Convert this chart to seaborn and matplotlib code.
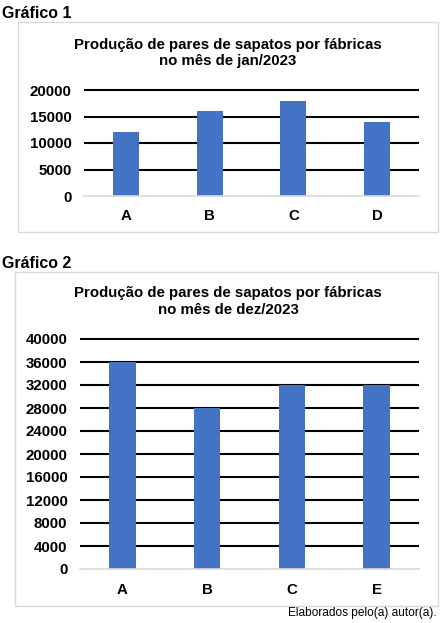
import matplotlib
matplotlib.use("Agg")
import matplotlib.pyplot as plt
from matplotlib.patches import Rectangle
import seaborn as sns

# dados
fabricas_jan = ["A", "B", "C", "D"]
pares_jan = [12000, 16000, 18000, 14000]
ticks_jan = [0, 5000, 10000, 15000, 20000]

fabricas_dez = ["A", "B", "C", "E"]
pares_dez = [36000, 28000, 32000, 32000]
ticks_dez = list(range(0, 40001, 4000))

titulo_jan = "Produção de pares de sapatos por fábricas\nno mês de jan/2023"
titulo_dez = "Produção de pares de sapatos por fábricas\nno mês de dez/2023"

AZUL = "#4472C4"
CINZA = "#d9d9d9"
W, H = 444, 623

sns.set_style("white")
plt.rcParams["font.family"] = ["Liberation Sans", "DejaVu Sans"]
plt.rcParams["text.color"] = "black"
plt.rcParams["xtick.color"] = "black"
plt.rcParams["ytick.color"] = "black"

fig = plt.figure(figsize=(W / 100, H / 100), dpi=100)


def px(x0, y0, x1, y1):
    # caixa em pixels (origem no topo) -> fração da figura
    return [x0 / W, 1 - y1 / H, (x1 - x0) / W, (y1 - y0) / H]


def grafico(ax, cats, vals, ticks, pad_x):
    sns.barplot(x=cats, y=vals, color=AZUL, saturation=1, width=0.31,
                edgecolor="none", ax=ax, zorder=2)
    ax.set_ylim(ticks[0], ticks[-1])
    ax.set_xlim(-0.5, len(cats) - 0.5)
    ax.set_yticks(ticks)
    ax.hlines(ticks[1:], -0.5, len(cats) - 0.5, color="black", lw=1.5,
              clip_on=False, zorder=1)
    for s in ["top", "left", "right"]:
        ax.spines[s].set_visible(False)
    ax.spines["bottom"].set_color(CINZA)
    ax.spines["bottom"].set_linewidth(1.2)
    ax.tick_params(axis="both", length=0, labelsize=10.8, labelcolor="black")
    ax.tick_params(axis="y", pad=9)
    ax.tick_params(axis="x", pad=pad_x)
    for lab in ax.get_xticklabels() + ax.get_yticklabels():
        lab.set_fontweight("bold")
    ax.set_xlabel("")
    ax.set_ylabel("")
    ax.set_facecolor("none")


# ---- Gráfico 1 ----
fig.text(2 / W, 1 - 13 / H, "Gráfico 1", fontsize=11.5, fontweight="bold",
         va="center", ha="left")
fig.patches.append(Rectangle((18 / W, 1 - 232 / H), 420 / W, 210 / H,
                             transform=fig.transFigure, fill=False,
                             edgecolor=CINZA, lw=1))
fig.text(228 / W, 1 - 53 / H, titulo_jan, fontsize=10.8, fontweight="bold",
         ha="center", va="center", linespacing=1.2)
ax1 = fig.add_axes(px(84, 90, 419, 196))
grafico(ax1, fabricas_jan, pares_jan, ticks_jan, 9)

# ---- Gráfico 2 ----
fig.text(2 / W, 1 - 263 / H, "Gráfico 2", fontsize=11.5, fontweight="bold",
         va="center", ha="left")
fig.patches.append(Rectangle((15 / W, 1 - 606 / H), 423 / W, 334 / H,
                             transform=fig.transFigure, fill=False,
                             edgecolor=CINZA, lw=1))
fig.text(228 / W, 1 - 301.5 / H, titulo_dez, fontsize=10.8, fontweight="bold",
         ha="center", va="center", linespacing=1.2)
ax2 = fig.add_axes(px(80, 339, 419, 569))
grafico(ax2, fabricas_dez, pares_dez, ticks_dez, 10)

fig.text(437 / W, 1 - 613 / H, "Elaborados pelo(a) autor(a).", fontsize=8.6,
         ha="right", va="center")

fig.savefig("out.png", dpi=100)
